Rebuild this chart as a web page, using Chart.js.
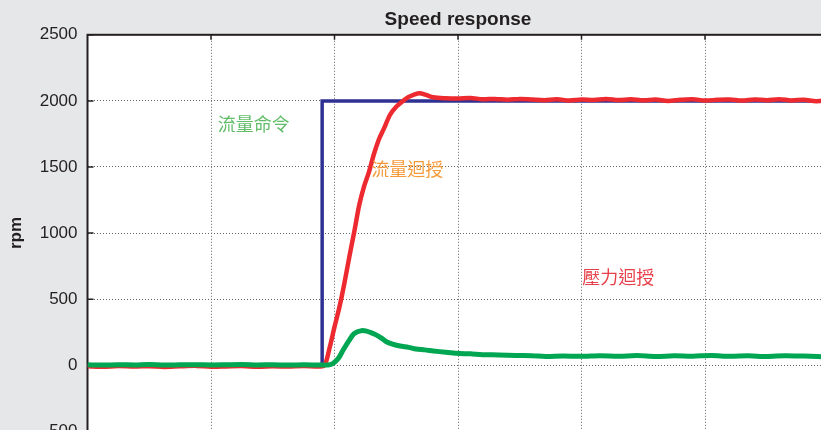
<!DOCTYPE html>
<html lang="zh-Hant">
<head>
<meta charset="UTF-8">
<title>Speed response</title>
<script src="https://cdn.jsdelivr.net/npm/chart.js@4.4.1/dist/chart.umd.min.js"></script>
<style>
  body {
    margin: 0;
    overflow: hidden;
    background-color: #e6e7e8;
  }
  canvas {
    display: block;
  }
</style>
</head>
<body>

<canvas id="speedChart" width="916" height="470"></canvas>

<script>
  // flow command (step)
  const cmdTime = [0, 190, 190, 600];
  const cmdRpm = [0, 0, 2000, 2000];

  // flow feedback
  const flowTime = [0, 12, 25, 38, 50, 62, 75, 88, 100, 112, 125, 138, 150, 162, 175, 188,
    192, 196, 200, 204, 208, 212, 216, 220, 224, 228, 232, 236, 240, 245, 250, 255, 260, 265, 269, 274,
    280, 290, 300, 310, 320, 330, 340, 350, 360, 370, 380, 390, 400, 410, 420, 430, 440, 450, 460,
    470, 480, 490, 500, 510, 520, 530, 540, 550, 560, 570, 580, 590, 600];
  const flowRpm = [-8, -12, -6, -10, -7, -13, -8, -5, -11, -9, -6, -12, -8, -10, -6, -9,
    0, 130, 290, 440, 620, 820, 1010, 1210, 1355, 1465, 1600, 1710, 1790, 1895, 1955, 1995, 2030, 2050, 2058, 2045,
    2027, 2020, 2018, 2022, 2012, 2015, 2008, 2015, 2010, 2005, 2012, 2003, 2010, 2007, 2015, 2006, 2012, 2004, 2010,
    2000, 2008, 2012, 2003, 2008, 2010, 2002, 2011, 2005, 2013, 2003, 2009, 1998, 2006];

  // pressure feedback
  const pressTime = [0, 12, 25, 38, 50, 62, 75, 88, 100, 112, 125, 138, 150, 162, 175, 188,
    196, 199, 203, 207, 212, 216, 222, 226, 230, 234, 238, 242, 247, 253, 260, 266, 273, 280, 290, 299,
    310, 320, 333, 347, 360, 371, 385, 400, 415, 430, 445, 460, 475, 490, 505, 520, 535, 550, 565, 580, 595, 600];
  const pressRpm = [3, 1, 4, 2, 5, 1, 3, 4, 2, 3, 5, 2, 4, 1, 3, 2,
    3, 15, 50, 115, 190, 240, 262, 258, 245, 228, 205, 178, 160, 145, 135, 122, 116, 108, 98, 90,
    86, 80, 78, 74, 72, 66, 70, 67, 72, 68, 73, 66, 71, 68, 74, 67, 71, 66, 72, 69, 65, 67];

  const yTicks = [-500, 0, 500, 1000, 1500, 2000, 2500];

  // text labels inside the plot, anchored in data coordinates (left edge, middle)
  const notes = [
    { text: '流量命令', x: 105.5, y: 1821, color: '#62bd69' },
    { text: '流量迴授', x: 229.8, y: 1485, color: '#f59a3b' },
    { text: '壓力迴授', x: 400.7, y: 670, color: '#e8404a' }
  ];

  function toPoints(xs, ys) {
    return xs.map((x, i) => ({ x: x, y: ys[i] }));
  }

  // white plot area, dark frame with small inward ticks
  const framePlugin = {
    id: 'frame',
    beforeDraw(chart) {
      const a = chart.chartArea;
      const ctx = chart.ctx;
      ctx.save();
      ctx.fillStyle = '#ffffff';
      ctx.fillRect(a.left, a.top, a.right - a.left, a.bottom - a.top);
      ctx.restore();
    },
    beforeDatasetsDraw(chart) {
      const a = chart.chartArea;
      const ctx = chart.ctx;
      ctx.save();
      ctx.strokeStyle = '#231f20';
      ctx.lineWidth = 2;
      ctx.strokeRect(a.left, a.top, a.right - a.left, a.bottom - a.top);
      ctx.lineWidth = 1.5;
      ctx.beginPath();
      yTicks.forEach(v => {
        const py = chart.scales.y.getPixelForValue(v);
        ctx.moveTo(a.left, py);
        ctx.lineTo(a.left + 6, py);
      });
      for (let v = 100; v < 600; v += 100) {
        const px = chart.scales.x.getPixelForValue(v);
        ctx.moveTo(px, a.top);
        ctx.lineTo(px, a.top + 5);
      }
      ctx.stroke();
      ctx.restore();
    },
    afterDatasetsDraw(chart) {
      const ctx = chart.ctx;
      ctx.save();
      ctx.font = '18px "Noto Sans CJK TC", sans-serif';
      ctx.textBaseline = 'middle';
      ctx.textAlign = 'left';
      notes.forEach(n => {
        ctx.fillStyle = n.color;
        ctx.fillText(n.text, chart.scales.x.getPixelForValue(n.x), chart.scales.y.getPixelForValue(n.y));
      });
      ctx.restore();
    }
  };

  const chart = new Chart('speedChart', {
    type: 'line',
    data: {
      datasets: [{
        label: '壓力迴授',
        data: toPoints(pressTime, pressRpm),
        borderColor: '#00a651',
        borderWidth: 5,
        tension: 0.3,
        fill: false
      }, {
        label: '流量迴授',
        data: toPoints(flowTime, flowRpm),
        borderColor: '#ed2a2f',
        borderWidth: 4.5,
        tension: 0.3,
        fill: false
      }, {
        label: '流量命令',
        data: toPoints(cmdTime, cmdRpm),
        borderColor: '#2e3192',
        borderWidth: 3.5,
        tension: 0,
        fill: false
      }]
    },
    plugins: [framePlugin],
    options: {
      responsive: false,
      animation: false,
      elements: { point: { radius: 0 } },
      layout: { padding: 0 },
      plugins: {
        legend: { display: false },
        tooltip: { enabled: false },
        title: {
          display: true,
          text: 'Speed response',
          color: '#231f20',
          font: { family: '"Liberation Sans", Arial, sans-serif', size: 19, weight: 'bold' },
          padding: { top: 8, bottom: 4 }
        }
      },
      scales: {
        x: {
          type: 'linear',
          min: 0,
          max: 600,
          ticks: { display: false, stepSize: 100 },
          grid: { color: '#666666', lineWidth: 1, drawTicks: false },
          border: { display: false, dash: [1, 2] },
          afterFit: s => { s.height = 38.7; }
        },
        y: {
          min: -500,
          max: 2500,
          afterBuildTicks: s => { s.ticks = yTicks.map(v => ({ value: v })); },
          ticks: {
            color: '#231f20',
            padding: 10,
            callback: v => String(v),
            font: { family: '"Liberation Sans", Arial, sans-serif', size: 17 }
          },
          grid: { color: '#666666', lineWidth: 1, drawTicks: false },
          border: { display: false, dash: [1, 2] },
          title: {
            display: true,
            text: 'rpm',
            color: '#231f20',
            padding: { top: 6, bottom: 0 },
            font: { family: '"Liberation Sans", Arial, sans-serif', size: 17, weight: 'bold' }
          },
          afterFit: s => { s.width = 87.5; }
        },
        yRight: {
          position: 'right',
          ticks: { display: false },
          grid: { display: false },
          border: { display: false },
          afterFit: s => { s.width = 87.5; }
        }
      }
    }
  });
</script>

</body>
</html>
